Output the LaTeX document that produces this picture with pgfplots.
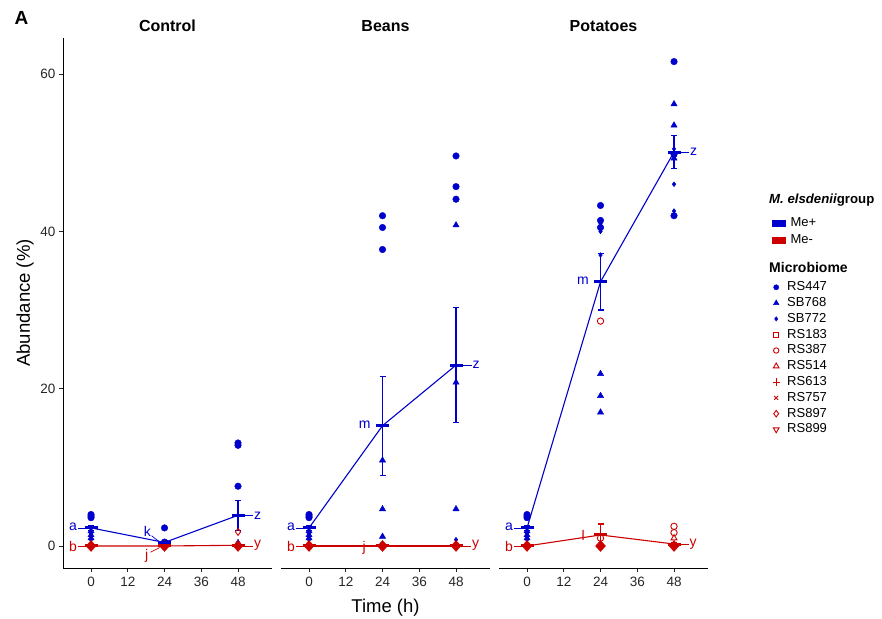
\documentclass[border=0pt]{standalone}
\usepackage{pgfplots}
\pgfplotsset{compat=1.18}
\usepackage{fontspec}
\setmainfont{Liberation Sans}
\definecolor{meblue}{RGB}{0,0,205}
\definecolor{mered}{RGB}{205,0,0}
\newcommand{\tickfont}{\fontsize{13.5}{15}\selectfont}
\newcommand{\lblfont}{\fontsize{14}{15}\selectfont}
\tikzset{seg/.style={line width=0.7pt}}

\pgfplotsset{
  panel/.style={
    scale only axis, width=209pt, height=530pt,
    xmin=-9.15, xmax=59.1, ymin=-2.8, ymax=64.6,
    axis x line*=bottom,
    xtick={0,12,24,36,48},
    tick align=outside, major tick length=4pt,
    tick style={black!85, line width=0.9pt},
    axis line style={-, black, line width=1pt},
    ticklabel style={font=\tickfont, text=black!85},
    xticklabel style={yshift=-2pt},
    /pgf/number format/assume math mode=true,
    title style={font=\fontsize{16}{18}\selectfont\bfseries, at={(0.5,1)}, anchor=south, yshift=-3pt},
    xlabel style={font=\fontsize{18.5}{20}\selectfont, yshift=-5pt},
    ylabel style={font=\fontsize{18.5}{20}\selectfont},
    clip=false,
  },
  zeroblob/.style={only marks, mark=diamond*, mark size=5.5pt, mered, mark options={xscale=1.2}},
  p447/.style={only marks, mark=*, mark size=3.3pt, meblue},
  p768/.style={only marks, mark=triangle*, mark size=3.6pt, meblue},
  p772/.style={only marks, mark=diamond*, mark size=2.4pt, meblue},
  redopen/.style={only marks, mered, line width=0.9pt},
  meanline/.style={line width=1.1pt, mark=-, mark size=6.5pt, mark options={line width=3pt},
    error bars/.cd, y dir=both, y explicit,
    error bar style={line width=1.2pt},
    error mark options={rotate=90, mark size=3pt, line width=1.2pt}},
}

\begin{document}
\begin{tikzpicture}[x=1pt,y=1pt]
\path[use as bounding box] (0,0) rectangle (882,618);
\node[anchor=base west, font=\fontsize{19}{20}\selectfont\bfseries] at (11,593) {A};

% ---------------- Control ----------------
\begin{axis}[panel, at={(63pt,50pt)}, anchor=south west,
  axis y line*=left, ytick={0,20,40,60},
  title={Control}, ylabel={Abundance (\%)}]
\addplot[p772] coordinates {(0,1.6)(0,1.2)(0,0.8)(24,0.1)(24,0.1)(24,0.0)(48,0.3)(48,0.2)(48,0.1)};
\addplot[p768] coordinates {(0,1.9)(0,1.4)(0,1.0)(24,0.2)(24,0.1)(24,0.1)(48,0.4)(48,0.2)(48,0.1)};
\addplot[p447] coordinates {(0,3.6)(0,3.8)(0,4.0)(24,2.3)(24,0.5)(24,0.3)(48,13.1)(48,12.8)(48,7.6)};
\addplot[zeroblob] coordinates {(0,0)(24,0)(48,0)};
\addplot[redopen, mark=diamond, mark size=3.5pt] coordinates {(48,1.8)};
\addplot[mered, meanline] coordinates {(0,0)+-(0,0.05) (24,0)+-(0,0.05) (48,0.09)+-(0,0.09)};
\addplot[meblue, meanline] coordinates {(0,2.3)+-(0,0.35) (24,0.45)+-(0,0.25) (48,3.9)+-(0,1.9)};
\node[meblue, font=\lblfont] at (axis cs:-5.9,2.4) {a};
\draw[meblue, seg] (axis cs:-4.3,2.3) -- (axis cs:-2.1,2.3);
\node[mered, font=\lblfont] at (axis cs:-5.9,-0.1) {b};
\draw[mered, seg] (axis cs:-4.3,0) -- (axis cs:-2.1,0);
\node[meblue, font=\lblfont] at (axis cs:18.4,1.8) {k};
\draw[meblue, seg] (axis cs:19.8,1.3) -- (axis cs:22.4,0.5);
\node[mered, font=\lblfont] at (axis cs:18.2,-1.2) {j};
\draw[mered, seg] (axis cs:19.4,-0.8) -- (axis cs:22.4,-0.2);
\node[meblue, font=\lblfont] at (axis cs:54.4,3.9) {z};
\draw[meblue, seg] (axis cs:50.2,3.9) -- (axis cs:53.0,3.9);
\node[mered, font=\lblfont] at (axis cs:54.4,0.1) {y};
\draw[mered, seg] (axis cs:50.2,0) -- (axis cs:53.0,0);
\end{axis}

% ---------------- Beans ----------------
\begin{axis}[panel, at={(281pt,50pt)}, anchor=south west,
  axis y line=none, ytick=\empty,
  title={Beans}, xlabel={Time (h)}]
\addplot[p772] coordinates {(0,1.6)(0,1.2)(0,0.8)(24,0.3)(24,0.2)(24,0.1)(48,0.8)(48,0.3)(48,0.2)};
\addplot[p768] coordinates {(0,1.9)(0,1.4)(0,1.0)(24,10.9)(24,4.7)(24,1.2)(48,40.8)(48,20.8)(48,4.7)};
\addplot[p447] coordinates {(0,3.6)(0,3.8)(0,4.0)(24,42.0)(24,40.5)(24,37.7)(48,49.6)(48,45.7)(48,44.1)};
\addplot[zeroblob] coordinates {(0,0)(24,0)(48,0)};
\addplot[mered, meanline] coordinates {(0,0)+-(0,0.05) (24,0)+-(0,0.05) (48,0)+-(0,0.05)};
\addplot[meblue, meanline] coordinates {(0,2.3)+-(0,0.35) (24,15.3)+-(0,6.3) (48,23.0)+-(0,7.3)};
\node[meblue, font=\lblfont] at (axis cs:-5.9,2.4) {a};
\draw[meblue, seg] (axis cs:-4.3,2.3) -- (axis cs:-2.1,2.3);
\node[mered, font=\lblfont] at (axis cs:-5.9,-0.1) {b};
\draw[mered, seg] (axis cs:-4.3,0) -- (axis cs:-2.1,0);
\node[meblue, font=\lblfont] at (axis cs:18.2,15.4) {m};
\node[mered, font=\lblfont] at (axis cs:18.0,-0.3) {j};
\node[meblue, font=\lblfont] at (axis cs:54.6,23.0) {z};
\draw[meblue, seg] (axis cs:50.2,23.0) -- (axis cs:53.2,23.0);
\node[mered, font=\lblfont] at (axis cs:54.4,0.1) {y};
\draw[mered, seg] (axis cs:50.2,0) -- (axis cs:53.0,0);
\end{axis}

% ---------------- Potatoes ----------------
\begin{axis}[panel, at={(499pt,50pt)}, anchor=south west,
  axis y line=none, ytick=\empty,
  title={Potatoes}]
\addplot[p772] coordinates {(0,1.6)(0,1.2)(0,0.8)(24,37.0)(24,40.0)(24,41.0)(48,50.5)(48,46.0)(48,42.6)};
\addplot[p768] coordinates {(0,1.9)(0,1.4)(0,1.0)(24,21.9)(24,19.1)(24,17.0)(48,56.2)(48,53.5)(48,49.3)};
\addplot[p447] coordinates {(0,3.6)(0,3.8)(0,4.0)(24,43.3)(24,41.4)(24,40.5)(48,61.6)(48,49.8)(48,42.0)};
\addplot[zeroblob] coordinates {(0,0)(24,0)(48,0)};
\addplot[redopen, mark=o, mark size=3.2pt] coordinates {(24,28.6)(24,1.0)(48,2.5)(48,1.7)};
\addplot[redopen, mark=triangle, mark size=3.4pt] coordinates {(48,1.0)};
\addplot[mered, meanline] coordinates {(0,0)+-(0,0.05) (24,1.4)+-(0,1.4) (48,0.25)+-(0,0.15)};
\addplot[meblue, meanline] coordinates {(0,2.3)+-(0,0.35) (24,33.6)+-(0,3.6) (48,50.1)+-(0,2.05)};
\node[meblue, font=\lblfont] at (axis cs:-5.9,2.4) {a};
\draw[meblue, seg] (axis cs:-4.3,2.3) -- (axis cs:-2.1,2.3);
\node[mered, font=\lblfont] at (axis cs:-5.9,-0.1) {b};
\draw[mered, seg] (axis cs:-4.3,0) -- (axis cs:-2.1,0);
\node[meblue, font=\lblfont] at (axis cs:18.3,33.7) {m};
\node[mered, font=\lblfont] at (axis cs:18.3,1.4) {l};
\node[meblue, font=\lblfont] at (axis cs:54.4,50.1) {z};
\draw[meblue, seg] (axis cs:50.2,50.1) -- (axis cs:53.0,50.1);
\node[mered, font=\lblfont] at (axis cs:54.2,0.2) {y};
\draw[mered, seg] (axis cs:50.2,0.2) -- (axis cs:52.8,0.2);
\end{axis}

% ---------------- Legends ----------------
\node[anchor=west, inner sep=0pt, font=\fontsize{13.2}{15}\selectfont\bfseries] at (769,418) {\textit{M. elsdenii}group};
\node[anchor=west, inner sep=0pt, font=\fontsize{14}{15}\selectfont\bfseries] at (769,350) {Microbiome};

\begin{axis}[at={(0pt,0pt)}, anchor=south west, scale only axis, width=882pt, height=618pt,
  xmin=0, xmax=1, ymin=0, ymax=1, hide axis,
  legend cell align=left,
  legend style={at={(772/882,1-217.6/618)}, anchor=north west, draw=none, fill=none,
    inner sep=0pt, column sep=5pt, row sep=6pt,
    font=\fontsize{13}{14}\selectfont,
    nodes={inner sep=0pt, text height=9pt, text depth=2pt}}]
\addlegendimage{legend image code/.code={\fill[meblue] (0pt,-2.7pt) rectangle (13pt,2.7pt);}}
\addlegendentry{Me+}
\addlegendimage{legend image code/.code={\fill[mered] (0pt,-2.7pt) rectangle (13pt,2.7pt);}}
\addlegendentry{Me-}
\end{axis}

\begin{axis}[at={(0pt,0pt)}, anchor=south west, scale only axis, width=882pt, height=618pt,
  xmin=0, xmax=1, ymin=0, ymax=1, hide axis,
  legend cell align=left,
  legend style={at={(772.4/882,1-281.6/618)}, anchor=north west, draw=none, fill=none,
    inner sep=0pt, column sep=7.4pt, row sep=4.8pt,
    font=\fontsize{13}{14}\selectfont,
    nodes={inner sep=0pt, text height=9pt, text depth=2pt}}]
\addlegendimage{only marks, mark=*, mark size=2.6pt, meblue}
\addlegendentry{RS447}
\addlegendimage{only marks, mark=triangle*, mark size=3.2pt, meblue}
\addlegendentry{SB768}
\addlegendimage{only marks, mark=diamond*, mark size=2.2pt, meblue}
\addlegendentry{SB772}
\addlegendimage{only marks, mark=square, mark size=2.6pt, mered, line width=0.9pt}
\addlegendentry{RS183}
\addlegendimage{only marks, mark=o, mark size=2.7pt, mered, line width=0.9pt}
\addlegendentry{RS387}
\addlegendimage{only marks, mark=triangle, mark size=3.3pt, mered, line width=0.9pt}
\addlegendentry{RS514}
\addlegendimage{only marks, mark=+, mark size=3.6pt, mered, line width=0.9pt}
\addlegendentry{RS613}
\addlegendimage{only marks, mark=x, mark size=2.8pt, mered, line width=0.9pt}
\addlegendentry{RS757}
\addlegendimage{only marks, mark=diamond, mark size=3.3pt, mered, line width=0.9pt}
\addlegendentry{RS897}
\addlegendimage{only marks, mark=triangle, mark size=3.3pt, mered, line width=0.9pt, mark options={rotate=180}}
\addlegendentry{RS899}
\end{axis}
\end{tikzpicture}
\end{document}
